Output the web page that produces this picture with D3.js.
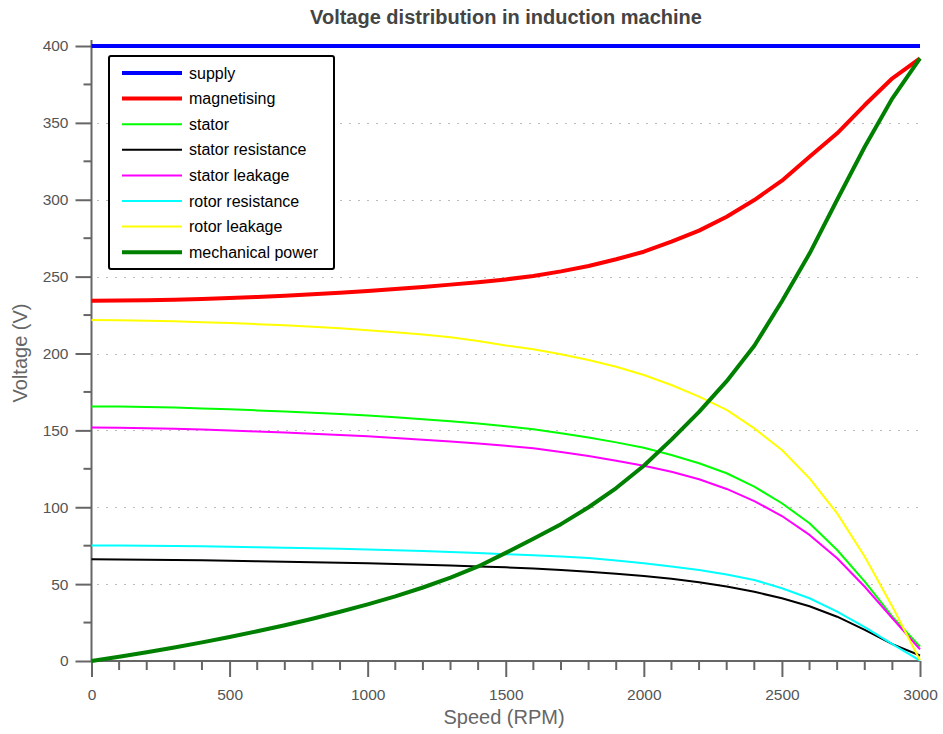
<!DOCTYPE html>
<meta charset="utf-8">
<script src="https://d3js.org/d3.v7.min.js"></script>
<style type="text/css">
  body { margin: 0; background: #fff; }
  text { font-family: "Liberation Sans", Arial, sans-serif; }
</style>
<body>
</body>
<script>

var speed = d3.range(0, 3001, 100);

var supply = speed.map(function() { return 400; });
var magnetising = [234.3, 234.4, 234.6, 235.0, 235.5, 236.1, 236.8, 237.6, 238.5, 239.5, 240.6, 241.9, 243.3, 244.8, 246.4, 248.2,
                   250.4, 253.4, 256.9, 261.3, 266.2, 272.7, 279.9, 289.0, 299.8, 312.4, 328.0, 343.2, 361.6, 379.0, 392.0];
var stator = [165.6, 165.5, 165.2, 164.8, 164.3, 163.7, 163.0, 162.3, 161.5, 160.6, 159.6, 158.5, 157.3, 155.9, 154.4, 152.7,
              150.7, 148.1, 145.3, 142.2, 138.7, 134.0, 128.6, 122.1, 113.4, 102.6, 89.6, 72.2, 51.6, 28.8, 9.3];
var statorRes = [66.1, 66.0, 65.9, 65.7, 65.5, 65.2, 64.9, 64.6, 64.3, 63.9, 63.5, 63.1, 62.6, 62.1, 61.5, 60.9,
                 60.2, 59.2, 58.1, 56.8, 55.3, 53.5, 51.2, 48.4, 45.0, 40.8, 35.6, 28.8, 20.3, 11.0, 3.6];
var statorLeak = [151.8, 151.7, 151.4, 151.0, 150.5, 149.9, 149.3, 148.6, 147.8, 147.0, 146.1, 145.1, 143.9, 142.7, 141.4, 140.0,
                  138.3, 135.9, 133.3, 130.3, 127.0, 123.1, 118.2, 111.9, 104.0, 94.3, 82.0, 66.8, 48.3, 27.8, 7.6];
var rotorRes = [75.2, 75.1, 75.0, 74.8, 74.6, 74.3, 74.0, 73.7, 73.4, 73.0, 72.6, 72.1, 71.5, 70.9, 70.2, 69.4,
                68.8, 68.0, 67.0, 65.4, 63.5, 61.5, 59.2, 56.2, 52.7, 47.3, 40.8, 32.1, 22.0, 11.0, 0.3];
var rotorLeak = [221.8, 221.6, 221.3, 220.9, 220.4, 219.8, 219.1, 218.3, 217.4, 216.4, 215.2, 213.8, 212.3, 210.5, 208.2, 205.2,
                 202.7, 199.5, 195.8, 191.4, 186.0, 179.5, 171.9, 163.3, 151.3, 137.2, 118.8, 96.0, 67.8, 35.3, 0.5];
var mechanical = [0, 2.8, 5.7, 8.8, 12.1, 15.6, 19.3, 23.3, 27.5, 32, 36.8, 42, 47.8, 54.2, 61.5, 70.3,
                  79.5, 89, 100, 112.5, 127, 144, 162, 182, 205, 234, 265, 300, 334.5, 366, 392];

var names = ["supply", "magnetising", "stator", "stator resistance", "stator leakage", "rotor resistance", "rotor leakage", "mechanical power"];
var seriesValues = [supply, magnetising, stator, statorRes, statorLeak, rotorRes, rotorLeak, mechanical];
var colors = ["#0000ff", "#ff0000", "#00ff00", "#000000", "#ff00ff", "#00ffff", "#ffff00", "#008000"];
var widths = [4, 4, 2, 2, 2, 2, 2, 4];

var xTicks = [0, 500, 1000, 1500, 2000, 2500, 3000];
var yTicks = [0, 50, 100, 150, 200, 250, 300, 350, 400];

var W = 943, H = 734;
var margin = {top: 46, right: 23, bottom: 73, left: 91.5};

var svg = d3.select("body").append("svg")
    .attr("width", W)
    .attr("height", H);

var g = svg.append("g")
    .attr("transform", "translate(" + margin.left + "," + margin.top + ")");

var x = d3.scaleLinear().domain([0, 3000]).range([0, 828.5]);
var y = d3.scaleLinear().domain([0, 400]).range([615, 0]);

var axisColor = "#666";

// dotted grid
g.selectAll(".grid")
    .data(yTicks.filter(function(d) { return d > 0 && d < 400; }))
  .enter().append("line")
    .attr("class", "grid")
    .attr("x1", 6).attr("x2", x(3000))
    .attr("y1", function(d) { return Math.round(y(d)) + 0.5; })
    .attr("y2", function(d) { return Math.round(y(d)) + 0.5; })
    .attr("stroke", "#777")
    .attr("stroke-width", 1)
    .attr("stroke-dasharray", "1,8");

// minor ticks
g.selectAll(".yminor")
    .data(d3.range(25, 400, 50))
  .enter().append("line")
    .attr("x1", -8).attr("x2", 0)
    .attr("y1", function(d) { return y(d); })
    .attr("y2", function(d) { return y(d); })
    .attr("stroke", axisColor).attr("stroke-width", 2);

g.selectAll(".xminor")
    .data(d3.range(0, 3001, 100).filter(function(d) { return d % 500 != 0; }))
  .enter().append("line")
    .attr("x1", function(d) { return x(d); })
    .attr("x2", function(d) { return x(d); })
    .attr("y1", y(0)).attr("y2", y(0) + 9)
    .attr("stroke", axisColor).attr("stroke-width", 2);

var yAxis = g.append("g")
    .call(d3.axisLeft(y).tickValues(yTicks).tickFormat(d3.format("d")).tickSize(16).tickPadding(7));

var xAxis = g.append("g")
    .attr("transform", "translate(0," + y(0) + ")")
    .call(d3.axisBottom(x).tickValues(xTicks).tickFormat(d3.format("d")).tickSize(16).tickPadding(12));

[xAxis, yAxis].forEach(function(a) {
  a.select(".domain").remove();
  a.selectAll("line").attr("stroke", axisColor).attr("stroke-width", 2);
  a.selectAll("text")
      .attr("fill", "#555")
      .style("font-size", "15.5px")
      .style("font-family", "'Liberation Sans', Arial, sans-serif");
});

// axis lines
g.append("line")
    .attr("x1", 0).attr("x2", 0)
    .attr("y1", -6).attr("y2", y(0))
    .attr("stroke", axisColor).attr("stroke-width", 2);
g.append("line")
    .attr("x1", 0).attr("x2", x(3000))
    .attr("y1", y(0)).attr("y2", y(0))
    .attr("stroke", axisColor).attr("stroke-width", 2);

// curves
var line = d3.line()
    .x(function(d, i) { return x(speed[i]); })
    .y(function(d) { return y(d); });

var order = [2, 3, 4, 5, 6, 1, 7, 0];
order.forEach(function(k) {
  g.append("path")
      .datum(seriesValues[k])
      .attr("fill", "none")
      .attr("stroke", colors[k])
      .attr("stroke-width", widths[k])
      .attr("stroke-linejoin", "round")
      .attr("d", line);
});

// legend
var legend = svg.append("g")
    .attr("transform", "translate(109,56)");

legend.append("rect")
    .attr("width", 225).attr("height", 213)
    .attr("rx", 2)
    .attr("fill", "#fff")
    .attr("stroke", "#000")
    .attr("stroke-width", 2);

var items = legend.selectAll(".item")
    .data(names)
  .enter().append("g")
    .attr("transform", function(d, i) { return "translate(0," + (17 + i * 25.6) + ")"; });

items.append("line")
    .attr("x1", 13).attr("x2", 73)
    .attr("stroke", function(d, i) { return colors[i]; })
    .attr("stroke-width", function(d, i) { return widths[i]; });

items.append("text")
    .attr("x", 80).attr("y", 5.5)
    .style("font-size", "16px")
    .attr("fill", "#000")
    .text(function(d) { return d; });

// titles
svg.append("text")
    .attr("x", 506).attr("y", 24)
    .attr("text-anchor", "middle")
    .style("font-size", "20px")
    .style("font-weight", "bold")
    .attr("fill", "#444")
    .text("Voltage distribution in induction machine");

svg.append("text")
    .attr("x", 504).attr("y", 724)
    .attr("text-anchor", "middle")
    .style("font-size", "20px")
    .attr("fill", "#666")
    .text("Speed (RPM)");

svg.append("text")
    .attr("transform", "translate(27,353) rotate(-90)")
    .attr("text-anchor", "middle")
    .style("font-size", "20px")
    .attr("fill", "#666")
    .text("Voltage (V)");

</script>
